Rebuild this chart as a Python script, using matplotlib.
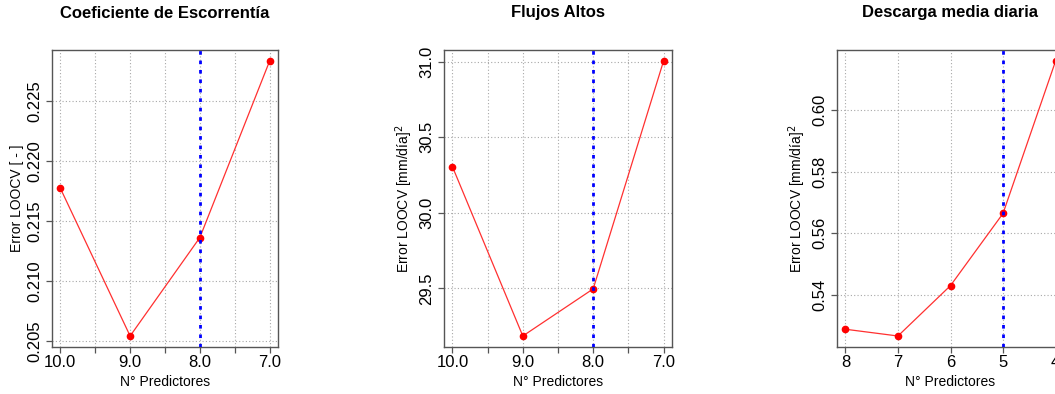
import matplotlib
matplotlib.use("Agg")
import matplotlib.pyplot as plt

plt.rcParams['font.family'] = ['Liberation Sans', 'DejaVu Sans']

# datos por panel
titles = ["Coeficiente de Escorrentía", "Flujos Altos", "Descarga media diaria"]
ylabels = ["Error LOOCV [ - ]",
           r"Error LOOCV [mm/día]$^2$",
           r"Error LOOCV [mm/día]$^2$"]

pred_esc = [10, 9, 8, 7]
err_esc = [0.2177, 0.2054, 0.2136, 0.2283]

pred_alt = [10, 9, 8, 7]
err_alt = [30.305, 29.184, 29.496, 31.005]

pred_med = [8, 7, 6, 5, 4]
err_med = [0.5287, 0.5265, 0.5429, 0.5664, 0.6160]

best = [8, 8, 5]

xticks_list = [[10, 9.5, 9, 8.5, 8, 7.5, 7],
               [10, 9.5, 9, 8.5, 8, 7.5, 7],
               [8, 7, 6, 5, 4]]
xticklabels_list = [["10.0", "", "9.0", "", "8.0", "", "7.0"],
                    ["10.0", "", "9.0", "", "8.0", "", "7.0"],
                    ["8", "7", "6", "5", "4"]]
yticks_list = [[0.205, 0.210, 0.215, 0.220, 0.225],
               [29.5, 30.0, 30.5, 31.0],
               [0.54, 0.56, 0.58, 0.60]]
yticklabels_list = [["0.205", "0.210", "0.215", "0.220", "0.225"],
                    ["29.5", "30.0", "30.5", "31.0"],
                    ["0.54", "0.56", "0.58", "0.60"]]

xs = [pred_esc, pred_alt, pred_med]
ys = [err_esc, err_alt, err_med]

W, H = 1055, 394
fig = plt.figure(figsize=(W / 100, H / 100), dpi=100)

lefts = [52, 444, 837]
widths = [226, 228, 227]
top, bottom = 50, 347
frame_col = '#555555'

for i in range(3):
    ax = fig.add_axes([lefts[i] / W, 1 - bottom / H, widths[i] / W, (bottom - top) / H])
    ax.margins(x=0.04, y=0.04)
    ax.plot(xs[i], ys[i], color='#ff3030', lw=0.9, zorder=3)
    ax.plot(xs[i], ys[i], 'o', color='red', ms=4.5, zorder=4)
    ax.invert_xaxis()

    ax.set_xticks(xticks_list[i])
    ax.set_xticklabels(xticklabels_list[i])
    ax.set_yticks(yticks_list[i])
    ax.set_yticklabels(yticklabels_list[i], rotation=90, va='center')

    ax.grid(True, color='#a8a8a8', linestyle=(0, (1, 2)), lw=0.8, zorder=1)
    ax.axvline(best[i], color='blue', lw=2, linestyle=(0, (1.3, 2.1)), zorder=5)

    for sp in ax.spines.values():
        sp.set_color(frame_col)
        sp.set_linewidth(1.0)
    ax.tick_params(direction='out', length=4, width=0.9, color=frame_col,
                   labelsize=12, labelcolor='black')
    ax.tick_params(axis='x', pad=1.5)
    ax.tick_params(axis='y', pad=3)

    hpx = bottom - top
    ax.text(0.5, 1 + 37 / hpx, titles[i], transform=ax.transAxes,
            ha='center', va='center', fontsize=12, fontweight='bold')
    ax.text(0.5, -35 / hpx, "N° Predictores", transform=ax.transAxes,
            ha='center', va='center', fontsize=10)
    yoff = 35 if i == 0 else 40
    ax.text(-yoff / widths[i], 0.5, ylabels[i], transform=ax.transAxes,
            ha='center', va='center', rotation=90, fontsize=10)

fig.savefig("out.png", dpi=100)
